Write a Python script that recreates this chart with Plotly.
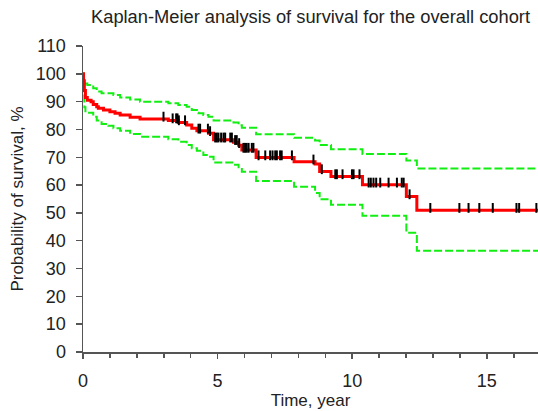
import numpy as np
import plotly.graph_objects as go

# Kaplan-Meier estimate (step function, % surviving)
km_time = [0, 0.02, 0.05, 0.09, 0.16, 0.30, 0.38, 0.51, 0.57, 0.76, 1.00, 1.19, 1.38, 1.75, 2.12,
           3.17, 3.54, 3.85, 4.04, 4.23, 4.66, 4.85, 5.59, 5.78, 5.90, 6.43, 7.84, 8.62, 8.79, 9.21,
           10.38, 12.01, 12.40, 16.9]
km_surv = [100, 97.5, 94, 91.5, 90.5, 90.0, 89.0, 88.2, 87.6, 87.0, 86.4, 85.8, 85.2, 84.4, 83.8,
           83.2, 82.5, 81.6, 80.4, 79.5, 78.6, 76.3, 75.4, 74.3, 72.6, 69.9, 68.4, 67.6, 64.9, 63.1,
           60.1, 55.9, 51.0, 51.0]

# Upper 95% confidence limit
up_time = [0, 0.03, 0.06, 0.16, 0.38, 0.51, 0.69, 1.13, 1.38, 1.75, 2.12, 3.17, 3.54, 3.85, 4.04,
           4.23, 4.29, 4.47, 4.66, 4.85, 5.59, 5.78, 5.90, 6.43, 7.84, 8.62, 8.79, 9.21, 10.38, 12.01,
           12.40, 16.9]
up_val = [100, 97.5, 96.5, 96.0, 94.8, 93.6, 93.0, 92.4, 91.5, 90.8, 90.0, 89.4, 88.8, 88.2, 87.0,
          86.0, 85.8, 85.2, 84.6, 83.2, 82.5, 81.5, 80.6, 78.3, 77.0, 76.0, 74.4, 72.9, 71.2, 68.8,
          66.0, 66.0]

# Lower 95% confidence limit
lo_time = [0, 0.02, 0.05, 0.09, 0.16, 0.38, 0.51, 0.69, 0.94, 1.13, 1.38, 1.75, 2.12, 3.17, 3.54,
           3.85, 4.04, 4.23, 4.47, 4.66, 4.85, 5.59, 5.78, 5.90, 6.43, 7.84, 8.62, 8.79, 9.21, 10.38,
           12.01, 12.40, 16.9]
lo_val = [100, 93, 88, 86.5, 86.0, 84.6, 83.2, 82.0, 81.3, 80.4, 79.5, 78.4, 77.4, 76.5, 75.6,
          74.4, 73.2, 72.3, 70.8, 70.2, 68.1, 67.3, 66.4, 64.8, 61.5, 59.4, 57.2, 54.9, 52.9, 49.0,
          42.9, 36.4, 36.4]

# Censored observations (years)
cens_time = [2.99, 3.33, 3.46, 3.51, 3.56, 3.79, 4.29, 4.35, 4.64, 4.72, 4.91, 4.97, 5.03, 5.13,
             5.22, 5.28, 5.47, 5.53, 5.65, 5.71, 5.80, 5.96, 6.02, 6.08, 6.15, 6.27, 6.33, 6.52,
             6.77, 6.95, 7.04, 7.14, 7.20, 7.32, 7.38, 7.76, 8.56, 8.87, 9.37, 9.43, 9.64, 9.99,
             10.05, 10.27, 10.61, 10.69, 10.79, 10.89, 11.04, 11.35, 11.66, 11.84, 11.91, 12.13,
             12.90, 13.98, 14.32, 14.72, 15.22, 16.10, 16.20, 16.84]

x_ticks = [0, 5, 10, 15]
y_ticks = [0, 10, 20, 30, 40, 50, 60, 70, 80, 90, 100, 110]

# survival value at each censor time (from the step function)
idx = np.searchsorted(np.array(km_time), np.array(cens_time), side="right") - 1
cens_surv = np.array(km_surv)[idx]

FONT = "Liberation Sans, Arial, Helvetica, sans-serif"
GREEN = "#11ee11"
AXIS = "#555555"
TEXT = "#222222"

fig = go.Figure()
fig.add_trace(go.Scatter(x=up_time, y=up_val, mode="lines", line_shape="hv",
                         line=dict(color=GREEN, width=2, dash="8px,3px"), hoverinfo="skip"))
fig.add_trace(go.Scatter(x=lo_time, y=lo_val, mode="lines", line_shape="hv",
                         line=dict(color=GREEN, width=2, dash="8px,3px"), hoverinfo="skip"))
fig.add_trace(go.Scatter(x=km_time, y=km_surv, mode="lines", line_shape="hv",
                         line=dict(color="#ff0000", width=3)))
fig.add_trace(go.Scatter(x=cens_time, y=cens_surv + 0.8, mode="markers",
                         marker=dict(symbol="line-ns", size=7, line=dict(color="black", width=2))))

fig.update_layout(
    width=538, height=411,
    margin=dict(l=83, r=0, t=46, b=59, autoexpand=False),
    plot_bgcolor="white", paper_bgcolor="white",
    showlegend=False,
    font=dict(family=FONT, size=17, color=TEXT),
    title=dict(text="Kaplan-Meier analysis of survival for the overall cohort",
               x=0.5, xref="paper", xanchor="center",
               y=1 - 17 / 411, yref="container", yanchor="middle",
               font=dict(family=FONT, size=18.3, color=TEXT)),
    xaxis=dict(range=[0, 16.9], tickmode="array", tickvals=x_ticks,
               ticks="outside", ticklen=5, tickwidth=1.5, tickcolor=AXIS,
               showline=True, linecolor=AXIS, linewidth=1.5,
               showgrid=False, zeroline=False, ticklabelstandoff=7,
               tickfont=dict(size=18), automargin=False,
               minor=dict(dtick=1, tick0=0, ticks="outside", ticklen=4, tickwidth=1.5,
                          tickcolor=AXIS, showgrid=False),
               title=dict(text="Time, year", standoff=4, font=dict(size=17))),
    yaxis=dict(range=[0, 110], tickmode="array", tickvals=y_ticks,
               ticks="outside", ticklen=6, tickwidth=1.5, tickcolor=AXIS,
               showline=True, linecolor=AXIS, linewidth=1.5,
               showgrid=False, zeroline=False, ticklabelstandoff=6,
               tickfont=dict(size=18), automargin=False,
               title=dict(text="Probability of survival, %", standoff=8, font=dict(size=17))),
)

fig.write_html("out.html", config={"displayModeBar": False, "staticPlot": True},
               post_script="document.body.style.margin='0';document.body.style.overflow='hidden';")
